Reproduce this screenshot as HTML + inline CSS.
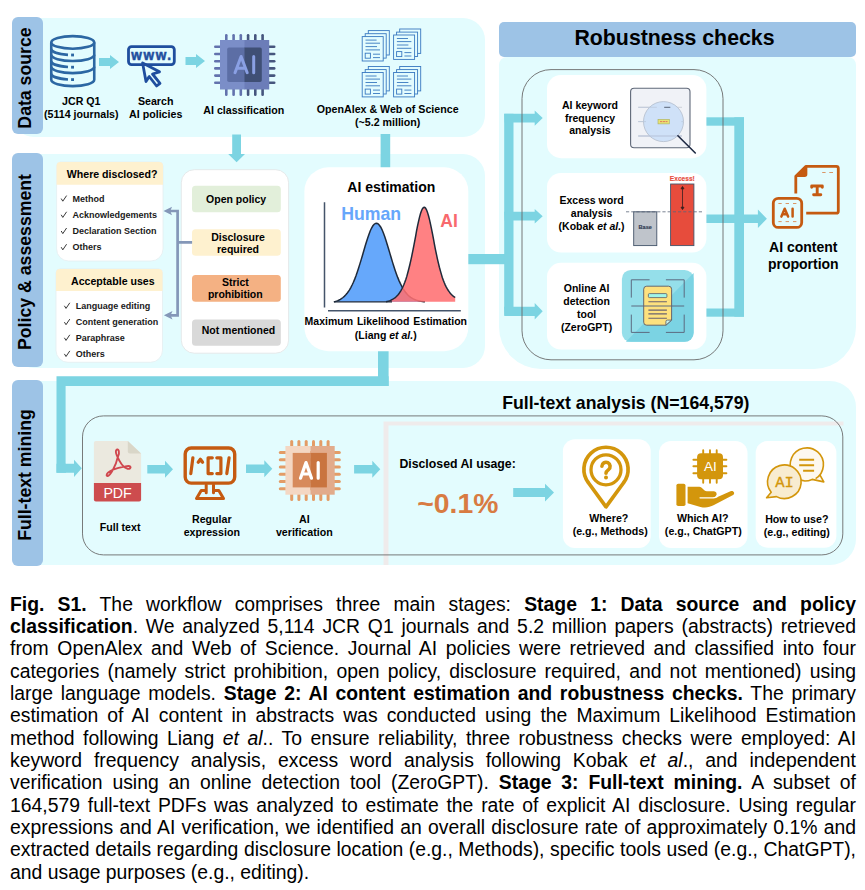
<!DOCTYPE html>
<html>
<head>
<meta charset="utf-8">
<style>
html,body{margin:0;padding:0;background:#fff;}
body{width:865px;height:890px;position:relative;overflow:hidden;font-family:"Liberation Sans",sans-serif;color:#000;}
.abs{position:absolute;}
.panel{position:absolute;background:#e3fcfe;}
.vlabel{position:absolute;background:#9dc3e6;border-radius:6px;}
.vlabel span{position:absolute;left:50%;top:50%;transform:translate(-1.2px,2px) translate(-50%,-50%) rotate(-90deg);white-space:nowrap;font-weight:bold;font-size:17.7px;}
.t{position:absolute;font-weight:bold;text-align:center;white-space:nowrap;transform:translateX(-50%);}
.card{position:absolute;background:#fff;}
.pill{position:absolute;left:192px;width:89px;border-radius:4px;font-weight:bold;font-size:11.5px;text-align:center;display:flex;align-items:center;justify-content:center;line-height:13px;}
.li{position:absolute;font-weight:bold;font-size:8.5px;white-space:nowrap;}
#cap{position:absolute;left:10px;top:592.6px;width:846px;font-size:19.38px;}
.cl{height:22.33px;line-height:22.33px;text-align:justify;text-align-last:justify;white-space:nowrap;}
</style>
</head>
<body>

<!-- PANELS -->
<div class="panel" style="left:12px;top:18px;width:473px;height:118.500px;border-radius:22px;"></div>
<div class="panel" style="left:12px;top:153.500px;width:473px;height:214.300px;border-radius:22px;"></div>
<div class="panel" style="left:12px;top:381px;width:844px;height:184.300px;border-radius:26px;"></div>
<div class="panel" style="left:499px;top:57px;width:356.500px;height:311.500px;border-radius:8px 8px 42px 42px;"></div>
<div class="abs" style="left:499px;top:21.600px;width:356.500px;height:35.800px;background:#9dc3e6;border-radius:5px;"></div>
<div class="t" style="left:674.500px;top:25.800px;font-size:21.300px;">Robustness checks</div>

<div class="vlabel" style="left:11.600px;top:17.300px;width:31.500px;height:116.800px;"><span>Data source</span></div>
<div class="vlabel" style="left:11.600px;top:152.700px;width:31.500px;height:214.600px;"><span>Policy &amp; assessment</span></div>
<div class="vlabel" style="left:11.600px;top:379.600px;width:31.500px;height:186.200px;"><span>Full-text mining</span></div>


<!-- DIAGRAM SVG -->
<svg class="abs" style="left:0;top:0;" width="865" height="590" viewBox="0 0 865 590" font-family="Liberation Sans, sans-serif" font-weight="bold">
<defs>
<g id="docstack" fill="#e3fcfe" stroke="#3878c0" stroke-width="0.9">
 <rect x="6.1" y="-6" width="21" height="24.4"/>
 <rect x="3" y="-2.9" width="21" height="24.4"/>
 <rect x="0" y="0" width="21" height="24.4"/>
 <path d="M3.3 3.5H14.4 M3.3 6.6H17.8 M3.3 10H14.8 M3.3 13.300H17.8 M10.8 17.600H17.8 M10.8 21H17.8" fill="none"/>
 <rect x="3" y="16.6" width="5.2" height="5"/>
</g>
</defs>

<!--SEC1-->
<g id="sec1">
 <!-- database -->
 <g fill="none" stroke="#2c67a3" stroke-width="2.6">
  <ellipse cx="72.75" cy="42.4" rx="21.5" ry="6.3"/>
  <path d="M51.25 42.4V79.8 A21.5 6.3 0 0 0 94.25 79.8V42.4"/>
  <path d="M51.25 54.7 A21.5 6.3 0 0 0 94.25 54.7"/>
  <path d="M51.25 66.8 A21.5 6.3 0 0 0 94.25 66.8"/>
  <path d="M51.25 48.7 A21.5 6.3 0 0 0 68 54.85 M51.25 60.9 A21.5 6.3 0 0 0 68 67.05 M51.25 73.4 A21.5 6.3 0 0 0 68 79.55"/>
 </g>
 <g fill="#2c67a3"><rect x="71.1" y="53.6" width="2.9" height="2.8"/><rect x="71.1" y="65.8" width="2.9" height="2.8"/><rect x="71.1" y="78.2" width="2.9" height="2.8"/></g>
 <polygon points="99,58 110,58 110,55 119,62 110,69 110,66 99,66" fill="#7cd4e2"/>
 <!-- www -->
 <rect x="128.5" y="46.6" width="45.8" height="18" rx="3" fill="none" stroke="#1f4e9e" stroke-width="2.8"/>
 <text transform="translate(152 60) scale(1 1.140)" x="0" y="0" font-size="13.600" letter-spacing="1.600" text-anchor="middle" fill="#1f4e9e" stroke="#1f4e9e" stroke-width="0.500">www.</text>
 <path d="M142.6 63 L159.5 71.8 L152.5 74 L160 83.3 L156.6 86 L149.2 76.5 L146 81.5 Z" fill="#e3fcfe" stroke="#1f4e9e" stroke-width="2.800" stroke-linejoin="round"/>
 <polygon points="185.5,57 196,57 196,54 205,61 196,68 196,65 185.5,65" fill="#7cd4e2"/>
 <!-- chip -->
 <g>
  <g fill="#6272ad">
   <rect x="225" y="34" width="2.6" height="62" rx="1.3"/><rect x="232.3" y="34" width="2.6" height="62" rx="1.3"/><rect x="239.5" y="34" width="2.6" height="62" rx="1.3"/>
   <rect x="214" y="45.5" width="31" height="2.6" rx="1.3"/><rect x="214" y="52.7" width="31" height="2.6" rx="1.3"/><rect x="214" y="59.9" width="31" height="2.6" rx="1.3"/><rect x="214" y="67.1" width="31" height="2.6" rx="1.3"/><rect x="214" y="74.3" width="31" height="2.6" rx="1.3"/><rect x="214" y="81.5" width="31" height="2.6" rx="1.3"/>
  </g>
  <g fill="#46567e">
   <rect x="246.8" y="34" width="2.6" height="62" rx="1.3"/><rect x="254" y="34" width="2.6" height="62" rx="1.3"/><rect x="261.3" y="34" width="2.6" height="62" rx="1.3"/>
   <rect x="244.5" y="45.5" width="31" height="2.6" rx="1.3"/><rect x="244.5" y="52.7" width="31" height="2.6" rx="1.3"/><rect x="244.5" y="59.9" width="31" height="2.6" rx="1.3"/><rect x="244.5" y="67.1" width="31" height="2.6" rx="1.3"/><rect x="244.5" y="74.3" width="31" height="2.6" rx="1.3"/><rect x="244.5" y="81.5" width="31" height="2.6" rx="1.3"/>
  </g>
  <rect x="220" y="40" width="25" height="49.5" fill="#7b8ec8"/>
  <rect x="244.5" y="40" width="24.7" height="49.5" fill="#6c7db8"/>
  <path d="M229 47.4H245V82H229a1.8 1.8 0 0 1-1.8-1.8V49.2a1.8 1.8 0 0 1 1.8-1.8z" fill="#5c6ea5"/>
  <path d="M244.5 47.4H260a1.8 1.8 0 0 1 1.8 1.8V80.2a1.8 1.8 0 0 1-1.8 1.8H244.5z" fill="#3f4f75"/>
  <path d="M235 72.7L241.1 56.5L247.2 72.7 M237 68.3H245.2 M253.7 56.5V72.7" fill="none" stroke="#8aa0e4" stroke-width="3" stroke-linecap="round" stroke-linejoin="round"/>
 </g>
 <!-- docs -->
 <use href="#docstack" x="362.2" y="36.6"/>
 <use href="#docstack" x="393.6" y="35"/>
 <use href="#docstack" x="362.2" y="72.5"/>
 <use href="#docstack" x="393.6" y="72.5"/>
 <g font-size="10.650" text-anchor="middle" fill="#000">
  <text x="81.300" y="105.400">JCR Q1</text><text x="81.300" y="118.200">(5114 journals)</text>
  <text x="155.7" y="105.400">Search</text><text x="155.7" y="118.200">AI policies</text>
  <text x="243.8" y="113.700">AI classification</text>
  <text x="387.7" y="113">OpenAlex &amp; Web of Science</text><text x="387.7" y="125.900">(~5.2 million)</text>
 </g>
 <polygon points="232.2,134.4 241,134.4 241,154 245,154 236.6,162.2 228.2,154 232.2,154" fill="#7cd4e2"/>
</g>
<!--/SEC1-->

<!--SEC2-->
<g id="sec2">
 <!-- cyan connectors -->
 <rect x="380.6" y="134" width="9.6" height="40" fill="#7cd4e2"/>
 <rect x="378" y="345" width="10.6" height="41" fill="#7cd4e2"/>
 <rect x="460" y="254" width="53" height="10.2" fill="#7cd4e2"/>
 <!-- where disclosed card -->
 <g>
  <path d="M60.6 162H159a4 4 0 0 1 4 4V249a12 12 0 0 1-12 12H68.6a12 12 0 0 1-12-12V166a4 4 0 0 1 4-4z" fill="#fff" stroke="#e4eef0" stroke-width="0.8"/>
  <path d="M60.6 162H159a4 4 0 0 1 4 4V184.8H56.6V166a4 4 0 0 1 4-4z" fill="#fef1cf"/>
  <path d="M60 268.9H158.5a4 4 0 0 1 4 4V350.3a12 12 0 0 1-12 12H68a12 12 0 0 1-12-12V272.9a4 4 0 0 1 4-4z" fill="#fff" stroke="#e4eef0" stroke-width="0.8"/>
  <path d="M60 268.9H158.5a4 4 0 0 1 4 4V291H56V272.9a4 4 0 0 1 4-4z" fill="#fef1cf"/>
 </g>
 <g font-size="10.6" fill="#000"><text x="66.8" y="178.1">Where disclosed?</text><text x="71" y="285.2">Acceptable uses</text></g>
 <g font-size="9" fill="#1a1a1a">
  <text x="72.4" y="201.8">Method</text><text x="72.4" y="218">Acknowledgements</text><text x="72.4" y="234.2">Declaration Section</text><text x="72.4" y="250.4">Others</text>
  <text x="75.7" y="309">Language editing</text><text x="75.7" y="325.3">Content generation</text><text x="75.7" y="341">Paraphrase</text><text x="75.7" y="357.1">Others</text>
 </g>
 <g fill="none" stroke="#222" stroke-width="0.9">
  <path d="M61.2 198.6l1.6 2.6l3.8-5.6 M61.2 214.8l1.6 2.6l3.8-5.6 M61.2 231l1.6 2.6l3.8-5.6 M61.2 247.2l1.6 2.6l3.8-5.6"/>
  <path d="M64.4 305.8l1.6 2.6l3.8-5.6 M64.4 322.1l1.6 2.6l3.8-5.6 M64.4 337.8l1.6 2.6l3.8-5.6 M64.4 353.9l1.6 2.6l3.8-5.6"/>
 </g>
 <!-- policy card -->
 <rect x="181.3" y="169.7" width="107.3" height="183.5" rx="13" fill="#fff" stroke="#e3e6e8" stroke-width="0.9"/>
 <rect x="192" y="185.7" width="88.800" height="26.6" rx="3.5" fill="#e2efda"/>
 <rect x="192" y="229.3" width="88.800" height="26.5" rx="3.5" fill="#fef1cf"/>
 <rect x="192" y="274.9" width="88.800" height="26.9" rx="3.5" fill="#f4b183"/>
 <rect x="192" y="319.5" width="88.800" height="26.2" rx="3.5" fill="#d9d9d9"/>
 <g font-size="10.5" text-anchor="middle" fill="#000">
  <text x="236.1" y="202.9">Open policy</text>
  <text x="238" y="240.7">Disclosure</text><text x="238" y="252.9">required</text>
  <text x="235.300" y="285.5">Strict</text><text x="235.300" y="298.2">prohibition</text>
  <text x="238.400" y="334.3">Not mentioned</text>
 </g>
 <!-- gray-blue connector -->
 <path d="M169 211H177.600V315.3H169 M177.600 242.3H192.100" fill="none" stroke="#8497b8" stroke-width="2.700"/>
 <path d="M163.500 211l8.600-4.300l-1.900 4.300l1.900 4.300z M163.900 315.3l8.600-4.300l-1.900 4.300l1.900 4.300z" fill="#8497b8"/>
 <!-- AI estimation card -->
 <rect x="304.4" y="167.3" width="163.9" height="183.9" rx="24" fill="#fff"/>
 <text x="391.3" y="192" font-size="14" text-anchor="middle" fill="#000">AI estimation</text>
 <path d="M324.5 202.2V307.6 M328 310.7H460.8" stroke="#44546a" stroke-width="1.5" fill="none"/>
 <path d="M333.9 301.8 L333.9 301.8 L335.2 301.5 L336.5 301.1 L337.8 300.6 L339.1 300.0 L340.4 299.3 L341.7 298.5 L343.0 297.5 L344.3 296.4 L345.6 295.1 L346.9 293.6 L348.2 291.8 L349.5 289.8 L350.8 287.6 L352.1 285.0 L353.4 282.2 L354.7 279.1 L356.0 275.7 L357.3 272.0 L358.6 268.1 L359.9 263.9 L361.2 259.6 L362.5 255.2 L363.8 250.7 L365.1 246.3 L366.4 242.0 L367.7 237.9 L369.0 234.2 L370.3 230.8 L371.6 228.0 L372.9 225.8 L374.2 224.2 L375.5 223.4 L376.8 223.2 L378.1 223.9 L379.4 225.2 L380.8 227.2 L382.1 229.8 L383.4 233.0 L384.7 236.5 L386.0 240.5 L387.3 244.7 L388.6 249.0 L389.9 253.4 L391.2 257.8 L392.5 262.1 L393.8 266.3 L395.1 270.2 L396.4 273.9 L397.7 277.4 L399.0 280.6 L400.3 283.4 L401.6 286.0 L402.9 288.4 L404.2 290.4 L405.5 292.2 L406.8 293.8 L408.1 295.2 L409.4 296.3 L410.7 297.3 L412.0 298.2 L413.3 298.9 L414.6 299.5 L415.9 300.0 L417.2 300.4 L418.5 300.8 L419.8 301.0 L421.1 301.3 L422.4 301.5 L423.7 301.7 L425.0 301.8 L425.0 301.8 Z" fill="#66a8fb"/>
 <path d="M333.9 301.8 L335.2 301.5 L336.5 301.1 L337.8 300.6 L339.1 300.0 L340.4 299.3 L341.7 298.5 L343.0 297.5 L344.3 296.4 L345.6 295.1 L346.9 293.6 L348.2 291.8 L349.5 289.8 L350.8 287.6 L352.1 285.0 L353.4 282.2 L354.7 279.1 L356.0 275.7 L357.3 272.0 L358.6 268.1 L359.9 263.9 L361.2 259.6 L362.5 255.2 L363.8 250.7 L365.1 246.3 L366.4 242.0 L367.7 237.9 L369.0 234.2 L370.3 230.8 L371.6 228.0 L372.9 225.8 L374.2 224.2 L375.5 223.4 L376.8 223.2 L378.1 223.9 L379.4 225.2 L380.8 227.2 L382.1 229.8 L383.4 233.0 L384.7 236.5 L386.0 240.5 L387.3 244.7 L388.6 249.0 L389.9 253.4 L391.2 257.8 L392.5 262.1 L393.8 266.3 L395.1 270.2 L396.4 273.9 L397.7 277.4 L399.0 280.6 L400.3 283.4 L401.6 286.0 L402.9 288.4 L404.2 290.4 L405.5 292.2 L406.8 293.8 L408.1 295.2 L409.4 296.3 L410.7 297.3 L412.0 298.2 L413.3 298.9 L414.6 299.5 L415.9 300.0 L417.2 300.4 L418.5 300.8 L419.8 301.0 L421.1 301.3 L422.4 301.5 L423.7 301.7 L425.0 301.8" fill="none" stroke="#1f2a3a" stroke-width="1.5"/>
 <path d="M386.0 301.8 L386.0 301.8 L387.0 301.6 L388.0 301.3 L389.0 301.0 L390.0 300.6 L390.9 300.2 L391.9 299.7 L392.9 299.2 L393.9 298.5 L394.9 297.8 L395.9 297.0 L396.9 296.0 L397.9 295.0 L398.9 293.8 L399.8 292.4 L400.8 290.8 L401.8 289.0 L402.8 287.0 L403.8 284.8 L404.8 282.3 L405.8 279.5 L406.8 276.4 L407.7 273.0 L408.7 269.3 L409.7 265.3 L410.7 260.9 L411.7 256.3 L412.7 251.4 L413.7 246.3 L414.7 241.1 L415.7 235.9 L416.6 230.7 L417.6 225.7 L418.6 221.1 L419.6 216.9 L420.6 213.3 L421.6 210.5 L422.6 208.5 L423.6 207.4 L424.6 207.3 L425.5 208.1 L426.5 209.8 L427.5 212.4 L428.5 215.7 L429.5 219.6 L430.5 224.1 L431.5 228.9 L432.5 233.9 L433.5 239.1 L434.4 244.2 L435.4 249.3 L436.4 254.1 L437.4 258.8 L438.4 263.1 L439.4 267.2 L440.4 270.9 L441.4 274.4 L442.3 277.5 L443.3 280.3 L444.3 282.8 L445.3 285.1 L446.3 287.1 L447.3 288.9 L448.3 290.5 L449.3 291.9 L450.3 293.2 L451.2 294.3 L452.2 295.2 L453.2 296.1 L454.2 296.8 L455.2 297.5 L455.2 301.8 Z" fill="#ff6f72" fill-opacity="0.88"/>
 <path d="M386.0 301.8 L387.0 301.6 L388.0 301.3 L389.0 301.0 L390.0 300.6 L390.9 300.2 L391.9 299.7 L392.9 299.2 L393.9 298.5 L394.9 297.8 L395.9 297.0 L396.9 296.0 L397.9 295.0 L398.9 293.8 L399.8 292.4 L400.8 290.8 L401.8 289.0 L402.8 287.0 L403.8 284.8 L404.8 282.3 L405.8 279.5 L406.8 276.4 L407.7 273.0 L408.7 269.3 L409.7 265.3 L410.7 260.9 L411.7 256.3 L412.7 251.4 L413.7 246.3 L414.7 241.1 L415.7 235.9 L416.6 230.7 L417.6 225.7 L418.6 221.1 L419.6 216.9 L420.6 213.3 L421.6 210.5 L422.6 208.5 L423.6 207.4 L424.6 207.3 L425.5 208.1 L426.5 209.8 L427.5 212.4 L428.5 215.7 L429.5 219.6 L430.5 224.1 L431.5 228.9 L432.5 233.9 L433.5 239.1 L434.4 244.2 L435.4 249.3 L436.4 254.1 L437.4 258.8 L438.4 263.1 L439.4 267.2 L440.4 270.9 L441.4 274.4 L442.3 277.5 L443.3 280.3 L444.3 282.8 L445.3 285.1 L446.3 287.1 L447.3 288.9 L448.3 290.5 L449.3 291.9 L450.3 293.2 L451.2 294.3 L452.2 295.2 L453.2 296.1 L454.2 296.8 L455.2 297.5" fill="none" stroke="#1f2a3a" stroke-width="1.5"/>
 <path d="M333.900 301.800H392" stroke="#1f2a3a" stroke-width="1.300" fill="none"/>
 <text x="341.2" y="219.9" font-size="17.700" fill="#66a6fb">Human</text>
 <text x="440.3" y="227" font-size="17.5" fill="#f8696d">AI</text>
 <text x="385.8" y="325.3" font-size="10.5" text-anchor="middle" fill="#000" word-spacing="1">Maximum Likelihood Estimation</text>
 <text x="385.8" y="338.5" font-size="10.5" text-anchor="middle" fill="#000">(Liang <tspan font-style="italic">et al.</tspan>)</text>
</g>
<!--/SEC2-->

<!--SEC3-->
<g id="sec3">
 <!-- left bracket + arrows -->
 <rect x="504.200" y="113.8" width="9.300" height="202" fill="#7cd4e2"/>
 <polygon points="504.200,113.8 534.7,113.8 534.7,110.39999999999999 542.7,118.1 534.7,125.8 534.7,122.39999999999999 504.7,122.39999999999999" fill="#7cd4e2"/>
 <polygon points="504.200,211.79999999999998 534.7,211.79999999999998 534.7,208.89999999999998 542.7,216.2 534.7,223.5 534.7,220.6 504.7,220.6" fill="#7cd4e2"/>
 <polygon points="504.200,306.7 534.7,306.7 534.7,303.0 542.7,311.3 534.7,319.6 534.7,315.90000000000003 504.7,315.90000000000003" fill="#7cd4e2"/>
 <!-- right bracket -->
 <rect x="700" y="117.3" width="44" height="8.4" fill="#7cd4e2"/>
 <rect x="700" y="308.5" width="44" height="8.2" fill="#7cd4e2"/>
 <rect x="734.3" y="117.3" width="9.7" height="199.4" fill="#7cd4e2"/>
 <polygon points="700,214.60000000000002 757.9,214.60000000000002 757.9,209.5 766.9,218.8 757.9,228.10000000000002 757.9,223.0 700,223.0" fill="#7cd4e2"/>
 <!-- cards -->
 <rect x="547" y="75" width="159.4" height="83.2" rx="14" fill="#fff"/>
 <rect x="547" y="173" width="159.4" height="79.6" rx="14" fill="#fff"/>
 <rect x="547" y="262.8" width="159.4" height="86.8" rx="14" fill="#fff"/>
 <!-- outline -->
 <rect x="522" y="69.600" width="201" height="290.200" rx="29" fill="none" stroke="#6a6a6a" stroke-width="0.900"/>
 <g font-size="10.5" text-anchor="middle" fill="#000">
  <text x="590" y="109.1">AI keyword</text><text x="590" y="121.6">frequency</text><text x="590" y="134.1">analysis</text>
  <text x="591.6" y="204">Excess word</text><text x="591.6" y="216.8">analysis</text><text x="591.6" y="229.8">(Kobak <tspan font-style="italic">et al.</tspan>)</text>
  <text x="586.6" y="292.2">Online AI</text><text x="586.6" y="304.7">detection</text><text x="586.6" y="317.7">tool</text><text x="586.6" y="331">(ZeroGPT)</text>
 </g>
 <!-- icon1: magnifier doc -->
 <g>
  <rect x="630.600" y="88.200" width="59.400" height="59.600" rx="3.500" fill="#f0f2f7" stroke="#5f6878" stroke-width="1.100"/>
  <path d="M638.200 107.300H682 M638.200 121.600H683 M638.200 136H682" stroke="#c3c8d2" stroke-width="0.800" fill="none"/>
  <circle cx="663.500" cy="121.600" r="20" fill="#cfe1f8" stroke="#b3bccb" stroke-width="0.800"/>
  <path d="M638.200 107.300H656.800 M638.200 121.600H646 M681.400 121.600H683" stroke="#b9c6da" stroke-width="0.700" fill="none"/><path d="M638.200 136H681.900" stroke="#b5c2d8" stroke-width="1.100" fill="none"/>
  <path d="M664.200 107.300H670.300" stroke="#4b5668" stroke-width="0.900"/>
  <rect x="658" y="119.300" width="11.300" height="4.600" fill="#e9e272" stroke="#a9b065" stroke-width="0.600"/>
  <path d="M660 121.600H667.500" stroke="#e0705a" stroke-width="0.900" stroke-dasharray="2.200 0.600"/>
  <path d="M677.9 135.8L695.3 153" stroke="#1f2a44" stroke-width="1.6" stroke-linecap="round"/>
 </g>
 <!-- icon2: bars -->
 <g>
  <rect x="633.7" y="211.8" width="23.1" height="33.8" fill="#bfc4cb" stroke="#44546a" stroke-width="0.9"/>
  <rect x="670.6" y="184" width="23.3" height="61.6" fill="#e74c3c" stroke="#44546a" stroke-width="0.9"/>
  <path d="M626 211.8H702" stroke="#5b6678" stroke-width="0.8" stroke-dasharray="3.2 2" fill="none"/>
  <text x="645.2" y="229.200" font-size="5.600" text-anchor="middle" fill="#2f3b52" stroke="#2f3b52" stroke-width="0.150">Base</text>
  <text x="682.3" y="180.7" font-size="6.600" text-anchor="middle" fill="#e74c3c" stroke="#e74c3c" stroke-width="0.150">Excess!</text>
  <path d="M682.5 187V209 M681 188.8l1.5-2.4l1.5 2.4z M681 207.2l1.5 2.4l1.5-2.4z" stroke="#3a2020" stroke-width="0.8" fill="#3a2020"/>
 </g>
 <!-- icon3: scan doc -->
 <g>
  <rect x="621.900" y="269.900" width="71.700" height="71.900" rx="9" fill="#95dfea"/>
  <path d="M693.600 272.900V332.800a9 9 0 0 1-9 9H625.900z" fill="#7bd3e3"/>
  <path d="M621.900 333V321L641 341.800H631a9 9 0 0 1-9.100-8.800z" fill="#8ad9e7" opacity="0"/>
  <path d="M631.300 297.600V279.800H649.600 M665.900 279.800H684.200V297.600 M684.200 314.600V332.400H665.900 M649.600 332.400H631.300V314.600 M631.300 306H684.200" fill="none" stroke="#5c6a80" stroke-width="1"/>
  <path d="M646.700 286.200H668.600a3 3 0 0 1 3 3V320.100L665.900 325.200H646.700a3 3 0 0 1-3-3V289.200a3 3 0 0 1 3-3z" fill="#fde17e" stroke="#5c5a66" stroke-width="0.900"/>
  <path d="M665.900 325.200V321.600a1.500 1.500 0 0 1 1.500-1.500H671.600z" fill="#c8f2ec" stroke="#5c5a66" stroke-width="0.800"/>
  <rect x="648.400" y="293.600" width="18.500" height="4" rx="1" fill="#a0f5e8" stroke="#5c5a66" stroke-width="0.800"/>
  <path d="M648.400 301.800H666.900 M648.400 310.100H666.900 M648.400 313.900H666.900 M648.400 318.300H666.900" stroke="#6a6270" stroke-width="1.100"/>
  <path d="M643.700 306H671.600" stroke="#5c6a80" stroke-width="1"/>
 </g>
 <!-- AI content icon -->
 <g fill="none" stroke="#c55a11" stroke-width="2.800" stroke-linejoin="round">
  <path d="M795.800 193.600V176.200L806 166.300H836.300a2 2 0 0 1 2 2V211.200a2 2 0 0 1-2 2H806.200"/>
  <path d="M796.200 176.200H804.600a2 2 0 0 0 2-2V166.300z" fill="#c55a11" stroke-width="1.500"/>
  <rect x="773.300" y="198.300" width="28.400" height="29.100" rx="5" fill="#e3fcfe"/>
  <path d="M822.200 172.500h3.400 M829.300 172.500h3.700 M778.400 203.500h3.300 M785.600 203.500h3.400 M793 203.500h3.400 M778.400 221.600h3.300 M785.600 221.600h3.400 M793 221.600h3.400" stroke="#d98a55" stroke-width="0.900"/>
  <path d="M811.700 187.300V186H822.300V187.300 M817.200 186V194.800 M813.600 194.800H820.800" stroke-width="2.900" stroke-linecap="round"/>
  <path d="M781.400 216.600L784.700 208.700L788.100 216.600 M782.900 214.300H786.600 M792.600 208.700V216.600" stroke-width="2.500" stroke-linecap="round"/>
 </g>
 <g font-size="14" text-anchor="middle" fill="#000"><text x="803.3" y="251.8">AI content</text><text x="803.3" y="269.3">proportion</text></g>
</g>
<!--/SEC3-->

<!--SEC4-->
<g id="sec4">
 <!-- cyan connector from estimation to full text -->
 <path d="M378 376.2H56.5V472.8H66 V463.8H65.6V386H388.6V376.2z" fill="#7cd4e2"/>
 <polygon points="56.5,463.8 74.0,463.8 74.0,459.7 81.8,468.3 74.0,476.90000000000003 74.0,472.8 56.5,472.8" fill="#7cd4e2"/>
 <!-- pink box -->
 <path d="M383.5 565V421.5H843.5V425.5H388.5V565z" fill="#efebeb"/>
 <!-- outline -->
 <rect x="82.5" y="415.9" width="760.3" height="139" rx="21" fill="none" stroke="#6b6b6b" stroke-width="0.9"/>
 <text x="625.8" y="408.6" font-size="17.7" text-anchor="middle" fill="#000">Full-text analysis (N=164,579)</text>
 <!-- pdf icon -->
 <g>
  <path d="M95.900 441.100H127.800L141.100 453.500V483H93.900V443.100a2 2 0 0 1 2-2z" fill="#ebe9df"/>
  <path d="M127.800 441.100L141.100 453.500H129.800a2 2 0 0 1-2-2z" fill="#d9d6c8"/>
  <path d="M93.900 482.900H141.100V499.600a2 2 0 0 1-2 2H95.900a2 2 0 0 1-2-2z" fill="#cd4c4e"/>
  <text x="117.600" y="497.800" font-size="14.200" font-weight="normal" text-anchor="middle" fill="#fff">PDF</text>
  <path d="M117.700 457.400C116.300 454.500 115.400 451.500 116.200 450.200C117 449 118.300 449.300 118.800 451C119.300 453 118.900 455.500 117.700 457.400C116.800 461.500 115 466 113.200 469.200C111.500 472.300 109.300 475.600 107.800 476C106.200 476.300 106.300 474.200 108 472.600C109.500 471.200 111.500 470.200 113.800 469.300C117 468 120.500 467.200 124.300 466.600C126.500 466.200 129.300 465.300 130.300 466.600C131.200 468 129.500 469.200 127.500 468.800C125.500 468.400 123.300 466.500 121.800 464.500C120.200 462.300 118.600 459.500 117.700 457.400Z" fill="none" stroke="#d0474e" stroke-width="1.900" stroke-linejoin="round"/>
 </g>
 <polygon points="147.3,465.0 165,465.0 165,460.7 173,469.2 165,477.7 165,473.4 147.3,473.4" fill="#7cd4e2"/>
 <!-- monitor icon -->
 <g fill="none" stroke="#c55a11" stroke-width="3.400" stroke-linejoin="round" stroke-linecap="round">
  <rect x="185.200" y="448" width="49.500" height="35.100" rx="6"/>
  <path d="M206.200 485V492.800 M213.500 485V492.800 M206.200 490.400H201.200L196.500 498.400H223.500L218.800 490.400H213.500" stroke-width="3"/>
  <path d="M190.800 473.600L192.900 457.800 M198.200 462.200L200.400 459.200L202.600 462.200 M212.300 457.800H208.100V473.600H212.300 M216.800 457.800H220.900V473.600H216.800 M226.800 473.600L229.100 457.800" stroke-width="3.200"/>
 </g>
 <polygon points="246,464.5 264.3,464.5 264.3,460.2 272.3,468.7 264.3,477.2 264.3,472.9 246,472.9" fill="#7cd4e2"/>
 <!-- orange chip -->
 <g>
  <g fill="#e39c66"><rect x="290.2" y="440" width="3" height="61" rx="1.500"/><rect x="297.4" y="440" width="3" height="61" rx="1.500"/><rect x="304.7" y="440" width="3" height="61" rx="1.500"/><rect x="312.0" y="440" width="3" height="61" rx="1.500"/><rect x="319.3" y="440" width="3" height="61" rx="1.500"/><rect x="326.6" y="440" width="3" height="61" rx="1.500"/><rect x="278.8" y="450.9" width="62" height="3" rx="1.500"/><rect x="278.8" y="458.2" width="62" height="3" rx="1.500"/><rect x="278.8" y="465.4" width="62" height="3" rx="1.500"/><rect x="278.8" y="472.7" width="62" height="3" rx="1.500"/><rect x="278.8" y="480.0" width="62" height="3" rx="1.500"/><rect x="278.8" y="487.3" width="62" height="3" rx="1.500"/></g>
  <rect x="285.4" y="446" width="25" height="48.7" fill="#f4d7c3"/>
  <rect x="310.4" y="446" width="24.3" height="48.7" fill="#e2ab8b"/>
  <rect x="292.7" y="452.9" width="17.7" height="34.5" fill="#d78a5b"/>
  <rect x="310.4" y="452.9" width="16.5" height="34.5" fill="#c9743f"/>
  <path d="M300.500 478.200L306 462.600L311.500 478.200 M302.300 474H309.700 M318.200 462.600V478.200" fill="none" stroke="#fff" stroke-width="3.200" stroke-linecap="round" stroke-linejoin="round"/>
 </g>
 <polygon points="354.1,465.0 372.3,465.0 372.3,460.7 380.3,469.2 372.3,477.7 372.3,473.4 354.1,473.4" fill="#7cd4e2"/>
 <g font-size="10.650" text-anchor="middle" fill="#000">
  <text x="120.1" y="531.200">Full text</text>
  <text x="211.8" y="523.3">Regular</text><text x="211.8" y="536">expression</text>
  <text x="304.3" y="522.8">AI</text><text x="304.3" y="535.800">verification</text>
 </g>
 <text x="399.4" y="468.2" font-size="12.3" fill="#000">Disclosed AI usage:</text>
 <text x="417.3" y="512.6" font-size="28.3" fill="#d87b42">~0.1%</text>
 <polygon points="513.2,488.1 545,488.1 545,483.70000000000005 554,492.6 545,501.5 545,497.1 513.2,497.1" fill="#7cd4e2"/>
 <!-- result cards -->
 <rect x="562.9" y="439.3" width="87.8" height="108.7" rx="12" fill="#fff"/>
 <rect x="659" y="441" width="88.500" height="107" rx="12" fill="#fff"/>
 <rect x="755.7" y="441" width="80.7" height="106.700" rx="12" fill="#fff"/>
 <g font-size="10.650" text-anchor="middle" fill="#000">
  <text x="608.8" y="522.100">Where?</text><text x="610.200" y="535.200">(e.g., Methods)</text>
  <text x="702.7" y="522.100">Which AI?</text><text x="703.300" y="535.200">(e.g., ChatGPT)</text>
  <text x="796.800" y="522.900">How to use?</text><text x="796.800" y="535.900">(e.g., editing)</text>
 </g>
 <!-- pin icon -->
 <g fill="none" stroke="#d3960c" stroke-linecap="round" stroke-linejoin="round">
  <path d="M588.6 483 A22.1 22.1 0 1 1 623.4 483 L606 506.800Z" stroke-width="3.7"/>
  <circle cx="606" cy="469.8" r="15" stroke-width="3.3"/>
  <path d="M601.9 466.300a4.1 4.1 0 1 1 6.600 3.300c-1.500 1.100-2.500 1.900-2.500 3.700" stroke-width="3.600"/>
 </g>
 <circle cx="606" cy="477.600" r="2" fill="#d3960c"/>
 <!-- chip + hand icon -->
 <g fill="#d3960c">
  <rect x="697.1" y="453.2" width="25.9" height="26" rx="4"/>
  <path d="M703.200 450.200V482.700 M710 450.200V482.700 M716.700 450.200V482.700 M693.400 459.700H726.400 M693.400 466.300H726.400 M693.400 473.200H726.400" stroke="#d3960c" stroke-width="1.900" stroke-linecap="round" fill="none"/>
  <rect x="676.4" y="483.7" width="9.1" height="22.3" rx="1.8"/>
  <path d="M687.600 486.700H699.300c3.200 0 4.200 4.500 7.500 4.500H713.600a2.800 2.800 0 0 1 2.200 4.800c-0.700 0.800-1.500 1.200-2.700 1.200H700a0.600 0.600 0 0 0 0 1.200H713.500c2 0 3.300-0.700 4.600-1.600L730.500 491.200c2.800-1.300 5.200 1.900 2.600 3.800L714 505c-4.500 2.500-9 2.900-13.500 1.900L687.600 503.300z"/>
 </g>
 <text x="710.300" y="471.300" font-size="13.500" font-weight="normal" text-anchor="middle" fill="#fff">AI</text>
 <!-- chat bubbles -->
 <g stroke="#d3960c" stroke-width="1.6" stroke-linejoin="round">
  <path transform="translate(-1.800 0)" d="M817.400 478.600A16.600 16.600 0 1 0 806.700 481c2.600 0 5-0.600 7.200-1.600L825.600 481.900L821.400 474.300" fill="#fdf8ee"/>
  <path d="M799.200 459.800H814.100 M799.200 465.200H814.100 M803.100 470.700H814.100" stroke-width="1.900" fill="none"/>
  <path transform="translate(-0.500 -0.500)" d="M771.700 492.700A16.800 16.800 0 1 1 777 497.100L767.100 498.300z" fill="#f8ecd0"/>
 </g>
 <text x="784.600" y="486.700" font-family="Liberation Mono, monospace" font-size="15.500" font-weight="normal" text-anchor="middle" fill="#d3960c" stroke="#d3960c" stroke-width="0.35">AI</text>

</g>
<!--/SEC4-->
</svg>

<!-- CAPTION -->
<div id="cap">
<div class="cl"><b>Fig. S1.</b> The workflow comprises three main stages: <b>Stage 1: Data source and policy</b></div>
<div class="cl"><b>classification</b>. We analyzed 5,114 JCR Q1 journals and 5.2 million papers (abstracts) retrieved</div>
<div class="cl">from OpenAlex and Web of Science. Journal AI policies were retrieved and classified into four</div>
<div class="cl">categories (namely strict prohibition, open policy, disclosure required, and not mentioned) using</div>
<div class="cl">large language models. <b>Stage 2: AI content estimation and robustness checks.</b> The primary</div>
<div class="cl">estimation of AI content in abstracts was conducted using the Maximum Likelihood Estimation</div>
<div class="cl">method following Liang <i>et al</i>.. To ensure reliability, three robustness checks were employed: AI</div>
<div class="cl">keyword frequency analysis, excess word analysis following Kobak <i>et al</i>., and independent</div>
<div class="cl">verification using an online detection tool (ZeroGPT). <b>Stage 3: Full-text mining.</b> A subset of</div>
<div class="cl">164,579 full-text PDFs was analyzed to estimate the rate of explicit AI disclosure. Using regular</div>
<div class="cl">expressions and AI verification, we identified an overall disclosure rate of approximately 0.1% and</div>
<div class="cl">extracted details regarding disclosure location (e.g., Methods), specific tools used (e.g., ChatGPT),</div>
<div class="cl" style="text-align-last:left;">and usage purposes (e.g., editing).</div>
</div>

</body>
</html>
